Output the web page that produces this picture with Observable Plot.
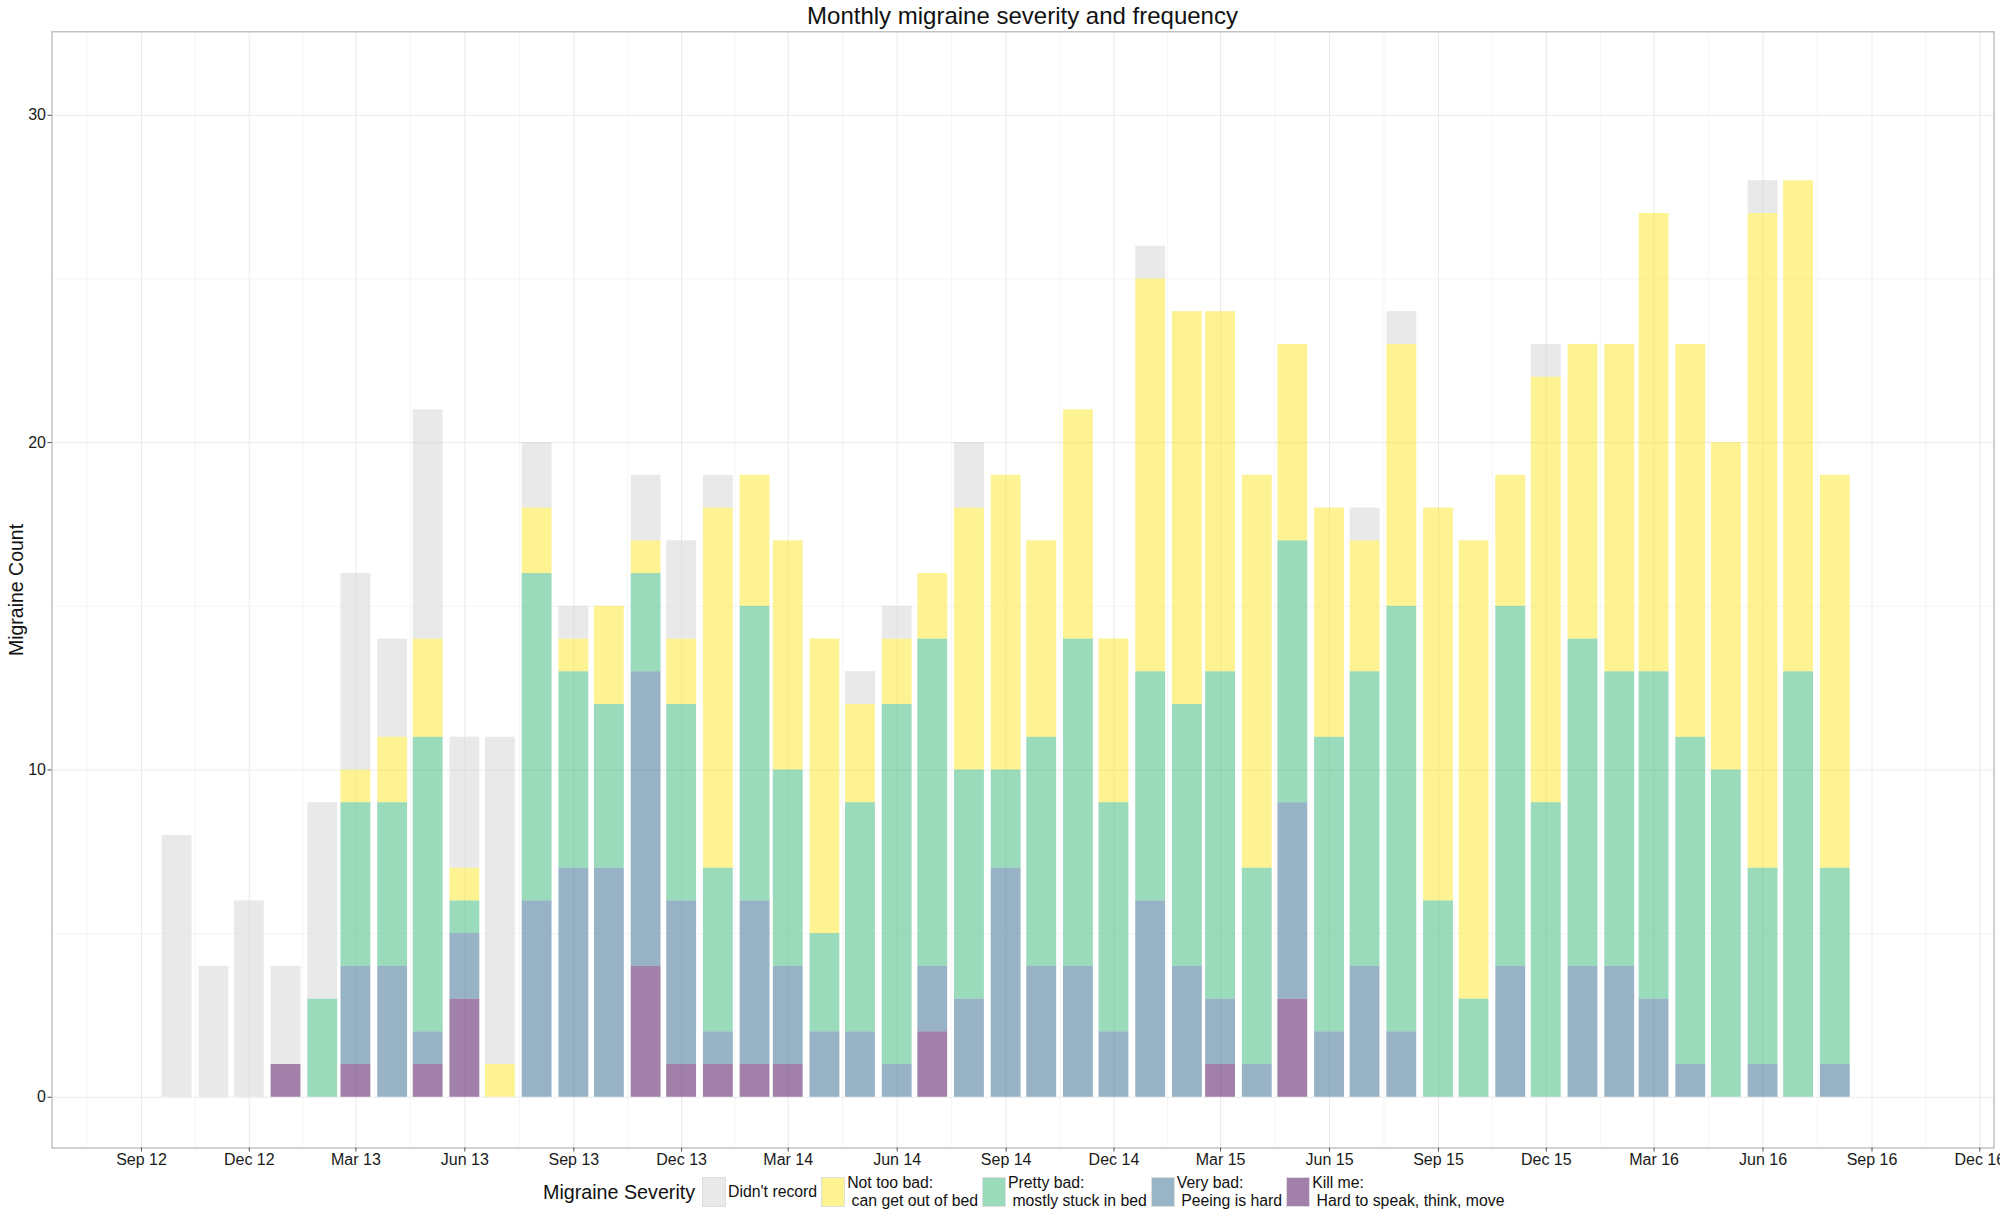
<!DOCTYPE html>
<html><head><meta charset="utf-8">
<script src="https://cdn.jsdelivr.net/npm/d3@7"></script>
<script src="https://cdn.jsdelivr.net/npm/@observablehq/plot@0.6"></script>
<style>
body{margin:0;background:#fff;font-family:"Liberation Sans",Arial,sans-serif;color:#111}
#wrap{position:relative;width:2000px;height:1226px;overflow:hidden;background:#fff}
#title{position:absolute;left:51.5px;width:1942px;top:0;height:31px;line-height:31px;text-align:center;font-size:24px}
#ylabel{position:absolute;left:16.3px;top:590px;transform:translate(-50%,-50%) rotate(-90deg);font-size:19.5px;white-space:nowrap;line-height:normal}
#chart{position:absolute;left:0;top:30px}
#legend{position:absolute;left:543px;top:1177px;height:30px;display:flex;align-items:center}
.ltitle{font-size:19.7px;margin-right:7px;white-space:nowrap}
.key{width:24px;height:30px;box-sizing:border-box;border:1px solid #dedede;margin-right:2px;flex:none}
.lab{font-size:15.8px;line-height:18px;white-space:pre;margin-right:4px}
</style></head>
<body>
<div id="wrap">
  <div id="title">Monthly migraine severity and frequency</div>
  <div id="ylabel">Migraine Count</div>
  <div id="chart"></div>
  <div id="legend"></div>
</div>
<script>
const months = ["2012-10","2012-11","2012-12",
"2013-01","2013-02","2013-03","2013-04","2013-05","2013-06","2013-07","2013-08","2013-09","2013-10","2013-11","2013-12",
"2014-01","2014-02","2014-03","2014-04","2014-05","2014-06","2014-07","2014-08","2014-09","2014-10","2014-11","2014-12",
"2015-01","2015-02","2015-03","2015-04","2015-05","2015-06","2015-07","2015-08","2015-09","2015-10","2015-11","2015-12",
"2016-01","2016-02","2016-03","2016-04","2016-05","2016-06","2016-07","2016-08"];

const killMe      = [0,0,0,1,0,1,0,1,3,0, 0,0,0,4,1,1,1,1,0,0, 0,2,0,0,0,0,0,0,0,1, 0,3,0,0,0,0,0,0,0,0, 0,0,0,0,0,0,0];
const veryBad     = [0,0,0,0,0,3,4,1,2,0, 6,7,7,9,5,1,5,3,2,2, 1,2,3,7,4,4,2,6,4,2, 1,6,2,4,2,0,0,4,0,4, 4,3,1,0,1,0,1];
const prettyBad   = [0,0,0,0,3,5,5,9,1,0, 10,6,5,3,6,5,9,6,3,7, 11,10,7,3,7,10,7,7,8,10, 6,8,9,9,13,6,3,11,9,10, 9,10,10,10,6,13,6];
const notTooBad   = [0,0,0,0,0,1,2,3,1,1, 2,1,3,1,2,11,4,7,9,3, 2,2,8,9,6,7,5,12,12,11, 12,6,7,4,8,12,14,4,13,9, 10,14,12,10,20,15,12];
const didntRecord = [8,4,6,3,6,6,3,7,4,10, 2,1,0,2,3,1,0,0,0,1, 1,0,2,0,0,0,0,1,0,0, 0,0,0,1,1,0,0,0,1,0, 0,0,0,0,1,0,0];

const severities = ["Didn't record",
  "Not too bad:\n can get out of bed",
  "Pretty bad:\n mostly stuck in bed",
  "Very bad:\n Peeing is hard",
  "Kill me:\n Hard to speak, think, move"];
const severityColors = ["#D3D3D3","#FDE725","#35B779","#31688E","#440154"];
const barAlpha = 0.5;

const xTickDates = ["2012-09-01","2012-12-01","2013-03-01","2013-06-01","2013-09-01","2013-12-01",
"2014-03-01","2014-06-01","2014-09-01","2014-12-01","2015-03-01","2015-06-01","2015-09-01","2015-12-01",
"2016-03-01","2016-06-01","2016-09-01","2016-12-01"];
const yTicks = [0,10,20,30];
const yMinor = [5,15,25];

const xDomain = [new Date("2012-06-17T10:00:00Z"), new Date("2016-12-13T00:00:00Z")];
const yDomain = [-1.55, 32.55];

// build long table, bottom-up stacking order
const seriesBottomUp = [[severities[4], killMe],[severities[3], veryBad],[severities[2], prettyBad],[severities[1], notTooBad],[severities[0], didntRecord]];
const halfBar = 12.6 * 864e5;
const rows = [];
months.forEach((m, i) => {
  const d = new Date(m + "-01T00:00:00Z");
  for (const [s, arr] of seriesBottomUp) {
    if (arr[i] > 0) rows.push({date: d, start: new Date(+d - halfBar), end: new Date(+d + halfBar), severity: s, count: arr[i]});
  }
});

const xTicks = xTickDates.map(s => new Date(s + "T00:00:00Z"));
const ext = [new Date("2012-06-01T00:00:00Z"), ...xTicks, new Date("2017-03-01T00:00:00Z")];
const xMinor = [];
for (let i = 0; i < ext.length - 1; i++) {
  const mid = new Date((+ext[i] + +ext[i+1]) / 2);
  if (mid > xDomain[0] && mid < xDomain[1]) xMinor.push(mid);
}

const chart = Plot.plot({
  width: 2000, height: 1143,
  marginLeft: 51.5, marginRight: 6.5, marginTop: 1.3, marginBottom: 25.5,
  style: {fontFamily: "Liberation Sans, Arial, sans-serif", fontSize: "16px", background: "transparent", color: "#1a1a1a"},
  x: {type: "utc", domain: xDomain},
  y: {domain: yDomain},
  color: {type: "ordinal", domain: severities, range: severityColors},
  marks: [
    Plot.gridY(yMinor, {stroke: "#f5f5f5", strokeOpacity: 1, strokeWidth: 1}),
    Plot.gridX(xMinor, {stroke: "#f5f5f5", strokeOpacity: 1, strokeWidth: 1}),
    Plot.gridY(yTicks, {stroke: "#ebebeb", strokeOpacity: 1, strokeWidth: 1.1}),
    Plot.gridX(xTicks, {stroke: "#ebebeb", strokeOpacity: 1, strokeWidth: 1.1}),
    Plot.rectY(rows, {x1: "start", x2: "end", y: "count", fill: "severity", fillOpacity: barAlpha}),
    Plot.frame({stroke: "#b3b3b3", strokeWidth: 1.2}),
    Plot.axisY(yTicks, {tickSize: 4, tickPadding: 2, fontSize: 16, label: null, stroke: "#4d4d4d", fill: "#1a1a1a"}),
    Plot.axisX(xTicks, {tickSize: 4, tickPadding: 2, fontSize: 16, label: null, stroke: "#4d4d4d", fill: "#1a1a1a", tickFormat: d3.utcFormat("%b %y")})
  ]
});
document.getElementById("chart").appendChild(chart);

// legend
const legend = document.getElementById("legend");
const lt = document.createElement("div");
lt.className = "ltitle"; lt.textContent = "Migraine Severity";
legend.appendChild(lt);
function blend(hex, a) {
  const c = d3.rgb(hex);
  return `rgb(${Math.round(c.r*a+255*(1-a))},${Math.round(c.g*a+255*(1-a))},${Math.round(c.b*a+255*(1-a))})`;
}
severities.forEach((s, i) => {
  const k = document.createElement("div");
  k.className = "key"; k.style.background = blend(severityColors[i], barAlpha);
  legend.appendChild(k);
  const l = document.createElement("div");
  l.className = "lab"; l.textContent = s;
  legend.appendChild(l);
});
</script>
</body></html>
